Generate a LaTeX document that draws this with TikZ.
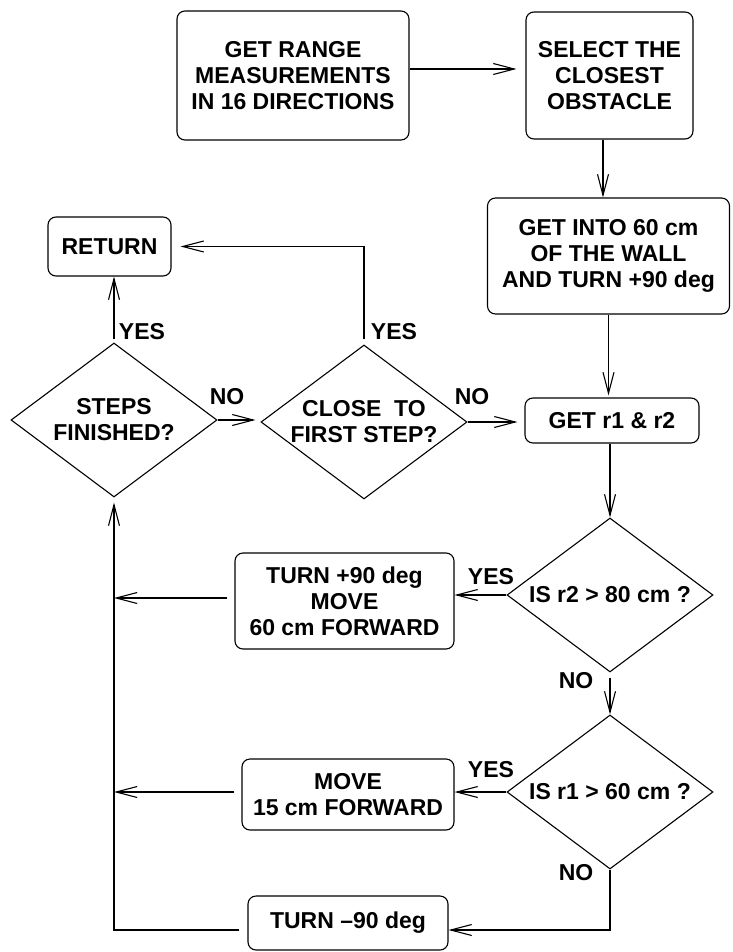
\documentclass[tikz,border=0pt]{standalone}
\usepackage{fontspec}
\setmainfont{Liberation Sans}
\usetikzlibrary{shapes.geometric,arrows.meta}
\begin{document}
\begin{tikzpicture}[x=1pt,y=-1pt,line width=1.1pt,
  every node/.style={font=\fontsize{23}{26}\selectfont\bfseries, align=center, inner sep=0pt},
  box/.style={draw, rounded corners=8pt},
  dia/.style={draw, diamond, aspect=1.34, inner sep=-14pt, minimum width=206pt, minimum height=154pt},
  arr/.style={-{Straight Barb[length=21pt,width=11pt]}}]
\useasboundingbox (0,0) rectangle (732,952);

% boxes
\node[box, minimum width=232pt, minimum height=129pt] (b1) at (293,75.5) {GET RANGE\\MEASUREMENTS\\IN 16 DIRECTIONS};
\node[box, minimum width=167pt, minimum height=127pt] (b2) at (609.5,75.5) {SELECT THE\\CLOSEST\\OBSTACLE};
\node[box, minimum width=242pt, minimum height=116pt] (b3) at (608.5,256) {GET INTO 60 cm\\OF THE WALL\\AND TURN +90 deg};
\node[box, minimum width=174pt, minimum height=45pt] (g) at (612,420.5) {GET r1 \& r2};
\node[box, minimum width=123pt, minimum height=59pt] (ret) at (109.5,246.5) {RETURN};
\node[box, minimum width=219pt, minimum height=96pt] (t1) at (344.5,601) {TURN +90 deg\\MOVE\\60 cm FORWARD};
\node[box, minimum width=212pt, minimum height=71pt] (t2) at (348,794.5) {MOVE\\15 cm FORWARD};
\node[box, minimum width=200pt, minimum height=54pt] (t3) at (348,923) {TURN \textendash90 deg};

% diamonds
\node[dia] (d1) at (114,420) {STEPS\\FINISHED?};
\node[dia] (d2) at (364,422) {CLOSE~~TO\\FIRST STEP?};
\node[dia] (d3) at (610,595) {IS r2 > 80 cm ?};
\node[dia] (d4) at (610,792) {IS r1 > 60 cm ?};

% labels
\node (l1) at (142,332) {YES};
\node (l2) at (227,397) {NO};
\node (l3) at (394,332) {YES};
\node (l4) at (472,397) {NO};
\node (l5) at (491,577) {YES};
\node (l6) at (576,681) {NO};
\node (l7) at (491,770) {YES};
\node (l8) at (576,873) {NO};

% helper points
\coordinate (a1) at ([yshift=3pt]t1.west);
\coordinate (a2) at ([yshift=2.5pt]t2.west);
\coordinate (a3) at ([yshift=-7pt]t3.west);
\coordinate (a4) at ([yshift=-7pt]t3.east);

% connectors
\draw[arr, shorten >=9pt] ([yshift=6.5pt]b1.east) -- ([yshift=6.5pt]b2.west);
\draw[arr] ([xshift=-6.5pt]b2.south) -- ([xshift=-5.5pt]b3.north);
\draw[arr, shorten >=2pt] (b3.south) -- (b3.south |- g.north);
\draw[arr, shorten >=7pt] (d2.east) -- (d2.east -| g.west);
\draw[arr, shorten >=5pt] (d1.east) -- (d1.east -| d2.west);
\draw[arr, shorten <=3pt] (d1.north) -- (d1.north |- ret.south);
\draw[arr, shorten <=5pt, shorten >=9pt] (d2.north) |- (ret.east);
\draw[arr] (g.south -| d3.north) -- (d3.north);
\draw[arr] (d3.west) -- (d3.west -| t1.east);
\draw[arr, shorten <=5pt] (d3.south) -- (d4.north);
\draw[arr] (d4.west) -- (d4.west -| t2.east);
\draw[arr] (d4.south) |- (a4);
\draw[arr, shorten <=7pt] (a1) -- (a1 -| d1.south);
\draw[arr, shorten <=7pt] (a2) -- (a2 -| d1.south);
\draw[arr, shorten <=8pt, shorten >=5pt] (a3) -| (d1.south);
\end{tikzpicture}
\end{document}
